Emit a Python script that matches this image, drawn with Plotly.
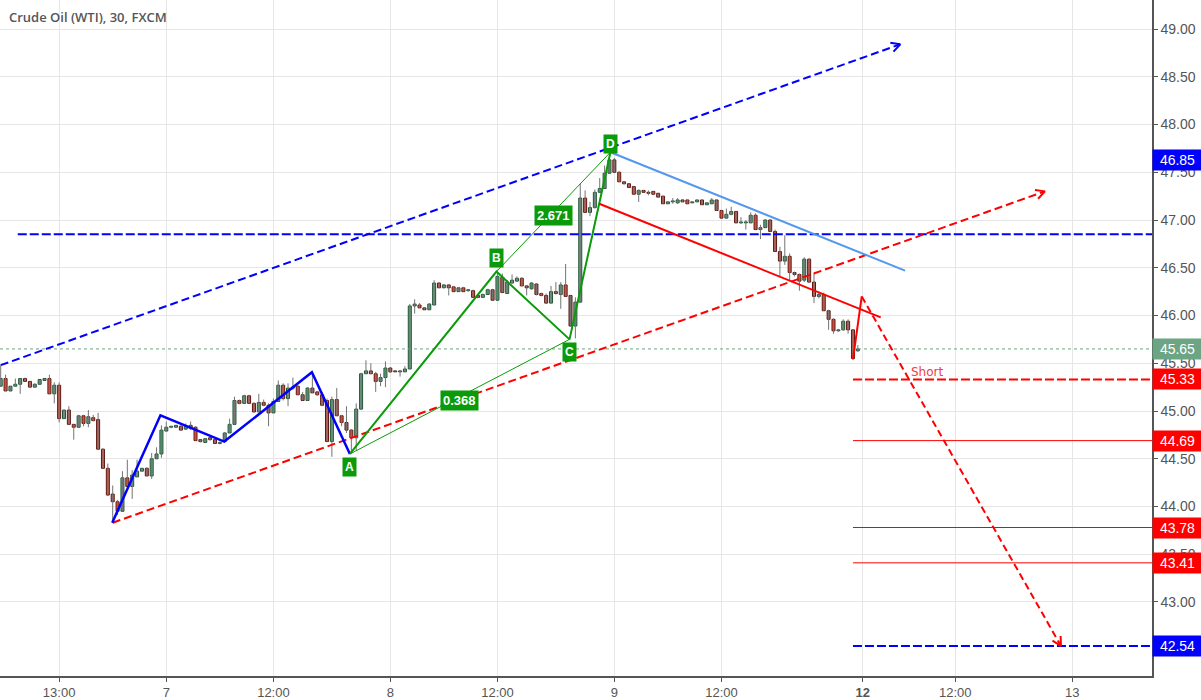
import math
import plotly.graph_objects as go

TITLE = "Crude Oil (WTI), 30, FXCM"

# ---- 30-minute candles ----
OPEN = [45.26, 45.34, 45.21, 45.26, 45.28, 45.34, 45.31, 45.25, 45.28, 45.32,
        45.34, 45.18, 45.27, 44.92, 45.01, 44.86, 44.83, 44.95, 44.87, 44.93,
        44.91, 44.60, 44.40, 44.13, 44.05, 43.95, 44.30, 44.21, 44.31, 44.37,
        44.40, 44.32, 44.50, 44.55, 44.79, 44.83, 44.83, 44.84, 44.81, 44.85,
        44.83, 44.70, 44.67, 44.72, 44.70, 44.66, 44.68, 44.77, 44.86, 45.11,
        45.08, 45.16, 45.08, 44.99, 45.09, 45.06, 44.98, 45.10, 45.27, 45.13,
        45.24, 45.26, 45.17, 45.11, 45.24, 45.20, 45.17, 45.11, 44.68, 45.12,
        44.95, 44.88, 44.80, 44.72, 45.02, 45.39, 45.42, 45.39, 45.31, 45.35,
        45.45, 45.42, 45.41, 45.41, 45.44, 46.10, 46.11, 46.08, 46.06, 46.11,
        46.34, 46.29, 46.32, 46.30, 46.25, 46.29, 46.26, 46.26, 46.21, 46.19,
        46.22, 46.27, 46.16, 46.40, 46.23, 46.34, 46.36, 46.39, 46.31, 46.28,
        46.33, 46.23, 46.21, 46.13, 46.25, 46.22, 46.32, 46.21, 45.89, 46.14,
        47.23, 47.08, 47.13, 47.29, 47.33, 47.49, 47.63, 47.50, 47.40, 47.38,
        47.35, 47.27, 47.31, 47.29, 47.30, 47.28, 47.25, 47.17, 47.19, 47.18,
        47.21, 47.21, 47.18, 47.19, 47.21, 47.16, 47.17, 47.21, 47.10, 47.02,
        47.06, 47.09, 46.97, 46.97, 46.97, 47.05, 46.90, 46.92, 47.00, 46.88,
        46.67, 46.57, 46.62, 46.45, 46.43, 46.37, 46.59, 46.35, 46.20, 46.22,
        46.05, 45.96, 45.84, 45.85, 45.94, 45.85, 45.63]
HIGH = [45.48, 45.38, 45.26, 45.34, 45.34, 45.35, 45.31, 45.29, 45.33, 45.34,
        45.38, 45.30, 45.30, 45.01, 45.05, 44.86, 44.96, 44.96, 45.01, 44.96,
        44.98, 44.61, 44.45, 44.22, 44.07, 44.37, 44.49, 44.38, 44.49, 44.40,
        44.41, 44.56, 44.62, 44.85, 44.89, 44.84, 44.85, 44.87, 44.87, 44.89,
        44.84, 44.70, 44.71, 44.72, 44.70, 44.68, 44.78, 44.92, 45.15, 45.12,
        45.17, 45.17, 45.09, 45.18, 45.12, 45.08, 45.13, 45.32, 45.29, 45.29,
        45.35, 45.27, 45.20, 45.25, 45.39, 45.21, 45.20, 45.13, 45.15, 45.24,
        44.96, 45.05, 44.81, 45.08, 45.40, 45.53, 45.50, 45.41, 45.39, 45.52,
        45.46, 45.43, 45.43, 45.47, 46.12, 46.17, 46.13, 46.08, 46.13, 46.37,
        46.35, 46.33, 46.33, 46.31, 46.29, 46.30, 46.27, 46.27, 46.21, 46.23,
        46.28, 46.28, 46.45, 46.44, 46.37, 46.43, 46.41, 46.40, 46.31, 46.35,
        46.34, 46.24, 46.23, 46.31, 46.35, 46.35, 46.54, 46.21, 46.19, 47.38,
        47.31, 47.19, 47.32, 47.44, 47.57, 47.69, 47.65, 47.51, 47.40, 47.38,
        47.35, 47.32, 47.31, 47.31, 47.30, 47.28, 47.25, 47.19, 47.23, 47.23,
        47.21, 47.21, 47.19, 47.21, 47.21, 47.18, 47.23, 47.21, 47.10, 47.12,
        47.14, 47.09, 47.03, 47.00, 47.08, 47.07, 46.95, 47.01, 47.01, 46.90,
        46.72, 46.84, 46.65, 46.46, 46.44, 46.61, 46.60, 46.44, 46.25, 46.24,
        46.06, 45.97, 45.86, 45.96, 45.96, 45.85, 45.69]
LOW = [45.26, 45.21, 45.21, 45.26, 45.18, 45.31, 45.24, 45.25, 45.28, 45.32,
       45.18, 45.08, 44.88, 44.92, 44.86, 44.70, 44.83, 44.84, 44.83, 44.89,
       44.60, 44.40, 44.11, 43.83, 43.91, 43.95, 44.21, 44.08, 44.31, 44.37,
       44.32, 44.29, 44.50, 44.51, 44.79, 44.82, 44.83, 44.80, 44.80, 44.80,
       44.69, 44.67, 44.67, 44.69, 44.66, 44.65, 44.68, 44.77, 44.86, 45.07,
       45.08, 45.08, 44.99, 44.99, 45.05, 44.84, 44.98, 45.10, 45.11, 45.05,
       45.22, 45.17, 45.11, 45.11, 45.19, 45.16, 45.05, 44.68, 44.52, 44.95,
       44.84, 44.77, 44.57, 44.59, 45.01, 45.39, 45.39, 45.20, 45.26, 45.25,
       45.40, 45.41, 45.36, 45.41, 45.44, 46.02, 46.08, 46.06, 46.06, 46.11,
       46.29, 46.29, 46.21, 46.25, 46.25, 46.25, 46.25, 46.19, 46.18, 46.19,
       46.22, 46.16, 46.16, 46.24, 46.23, 46.34, 46.35, 46.31, 46.21, 46.27,
       46.21, 46.20, 46.12, 46.13, 46.22, 46.07, 46.20, 45.88, 45.76, 46.14,
       47.08, 47.04, 47.12, 47.29, 47.33, 47.49, 47.50, 47.40, 47.37, 47.34,
       47.27, 47.19, 47.29, 47.26, 47.27, 47.24, 47.17, 47.17, 47.17, 47.17,
       47.19, 47.17, 47.18, 47.19, 47.16, 47.16, 47.17, 47.10, 47.02, 47.02,
       47.05, 46.97, 46.96, 46.90, 46.97, 46.90, 46.80, 46.92, 46.88, 46.67,
       46.41, 46.53, 46.37, 46.41, 46.26, 46.35, 46.34, 46.13, 46.18, 46.05,
       45.85, 45.81, 45.83, 45.84, 45.81, 45.54, 45.62]
CLOSE = [45.34, 45.21, 45.26, 45.28, 45.34, 45.31, 45.25, 45.28, 45.33, 45.34,
         45.18, 45.27, 44.92, 45.01, 44.86, 44.83, 44.95, 44.87, 44.94, 44.90,
         44.60, 44.40, 44.12, 44.05, 43.95, 44.30, 44.21, 44.33, 44.37, 44.40,
         44.32, 44.50, 44.55, 44.80, 44.83, 44.84, 44.85, 44.80, 44.84, 44.82,
         44.69, 44.68, 44.71, 44.70, 44.66, 44.67, 44.77, 44.86, 45.11, 45.08,
         45.16, 45.08, 44.99, 45.09, 45.06, 44.98, 45.10, 45.27, 45.13, 45.24,
         45.25, 45.17, 45.11, 45.24, 45.19, 45.17, 45.06, 44.68, 45.12, 44.95,
         44.88, 44.80, 44.72, 45.02, 45.39, 45.42, 45.39, 45.31, 45.35, 45.45,
         45.41, 45.41, 45.42, 45.44, 46.10, 46.12, 46.08, 46.06, 46.12, 46.34,
         46.29, 46.32, 46.29, 46.25, 46.29, 46.25, 46.27, 46.19, 46.19, 46.22,
         46.27, 46.16, 46.41, 46.24, 46.35, 46.37, 46.39, 46.31, 46.29, 46.34,
         46.22, 46.21, 46.13, 46.25, 46.23, 46.32, 46.20, 45.89, 46.14, 47.23,
         47.08, 47.13, 47.29, 47.33, 47.49, 47.63, 47.50, 47.40, 47.38, 47.34,
         47.27, 47.31, 47.29, 47.28, 47.27, 47.24, 47.17, 47.19, 47.20, 47.21,
         47.19, 47.17, 47.19, 47.21, 47.16, 47.18, 47.21, 47.10, 47.02, 47.06,
         47.09, 46.97, 46.98, 46.98, 47.05, 46.90, 46.92, 47.00, 46.88, 46.67,
         46.57, 46.62, 46.45, 46.43, 46.36, 46.59, 46.35, 46.20, 46.22, 46.05,
         45.96, 45.84, 45.85, 45.94, 45.85, 45.55, 45.65]
LAST_PRICE = 45.65

# time axis (bar index of each session label)
TIME_TICK_INDEX = [12, 34, 56, 80, 102, 126, 148, 177, 196, 220]
TIME_TICK_TEXT = ["13:00", "7", "12:00", "8", "12:00", "9", "12:00", "<b>12</b>", "12:00", "13"]
PRICE_TICKS = [43.0, 43.5, 44.0, 44.5, 45.0, 45.5, 46.0, 46.5, 47.0, 47.5, 48.0, 48.5, 49.0]

# ---- drawings (bar index, price) ----
BLUE_CHANNEL = [(0.0, 45.48), (184.7, 48.84)]
RED_CHANNEL = [(23.0, 43.83), (214.4, 47.30)]
BLUE_ZIGZAG = [(22.9, 43.83), (32.8, 44.955), (45.9, 44.68), (63.9, 45.405), (71.7, 44.55)]
PATTERN_NAMES = ["A", "B", "C", "D"]
PATTERN_PTS = [(71.7, 44.55), (101.8, 46.46), (116.8, 45.75), (125.2, 47.71)]
RATIO_AC = "0.368"
RATIO_BD = "2.671"
LIGHT_BLUE_LINE = [(125.2, 47.71), (185.7, 46.47)]
RED_TREND = [(122.9, 47.17), (180.7, 45.98)]
RED_PROJ_UP = [(175.0, 45.54), (176.8, 46.20)]
RED_PROJ_DOWN = [(176.8, 46.20), (217.7, 42.54)]
H_BLUE_TOP = (3.5, 46.85)
H_SHORT = (175.0, 45.33)
H_TARGETS = [44.69, 43.78, 43.41]
H_TARGET_START = 175.0
H_BLUE_BOTTOM = (175.0, 42.54)
SHORT_TEXT_X = 186.6

# axis labels on the price scale: (text, price position, colour)
AXIS_TAGS = [("46.85", 47.63, "#0000ff"), ("45.65", 45.65, "#6ba583"),
             ("45.33", 45.33, "#ff0000"), ("44.69", 44.69, "#ff0000"),
             ("43.78", 43.78, "#ff0000"), ("43.41", 43.41, "#ff0000"),
             ("42.54", 42.54, "#0000ff")]

X_RANGE = [-0.144, 236.4]
Y_RANGE = [42.225, 49.304]
PLOT_W, PLOT_H = 1152, 676

BLUE = "#0000ff"
RED = "#ff0000"
GREEN = "#0a9a0a"
SX = PLOT_W / (X_RANGE[1] - X_RANGE[0])
SY = PLOT_H / (Y_RANGE[1] - Y_RANGE[0])


def chevron(tail, tip, arm=10.0, ang=28.0):
    dx = (tip[0] - tail[0]) * SX
    dy = (tip[1] - tail[1]) * SY
    n = math.hypot(dx, dy)
    bx, by = -dx / n, -dy / n
    xs, ys = [], []
    for s in (1, -1):
        a = math.radians(ang) * s
        rx = bx * math.cos(a) - by * math.sin(a)
        ry = bx * math.sin(a) + by * math.cos(a)
        xs.append(tip[0] + arm * rx / SX)
        ys.append(tip[1] + arm * ry / SY)
    return [xs[0], tip[0], xs[1]], [ys[0], tip[1], ys[1]]


fig = go.Figure()

idx = list(range(len(OPEN)))

# last-price dotted line
fig.add_trace(go.Scatter(x=X_RANGE, y=[LAST_PRICE, LAST_PRICE], mode="lines",
                         line=dict(color="#6ba583", width=1, dash="dot"), hoverinfo="skip"))

# wicks
wx, wy = [], []
for i in idx:
    wx += [i, i, None]
    wy += [LOW[i], HIGH[i], None]
fig.add_trace(go.Scatter(x=wx, y=wy, mode="lines", line=dict(color="#737375", width=1),
                         hoverinfo="skip"))

# bodies
up = [i for i in idx if CLOSE[i] >= OPEN[i]]
dn = [i for i in idx if CLOSE[i] < OPEN[i]]
fig.add_trace(go.Bar(x=up, base=[OPEN[i] for i in up], y=[CLOSE[i] - OPEN[i] for i in up],
                     width=0.62, marker=dict(color="#6ba583", line=dict(color="#225437", width=1))))
fig.add_trace(go.Bar(x=dn, base=[CLOSE[i] for i in dn], y=[OPEN[i] - CLOSE[i] for i in dn],
                     width=0.62, marker=dict(color="#d75442", line=dict(color="#5b1a13", width=1))))


def line(pts, color, width=2, dash=None):
    fig.add_trace(go.Scatter(x=[p[0] for p in pts], y=[p[1] for p in pts], mode="lines",
                             line=dict(color=color, width=width, dash=dash), hoverinfo="skip"))


DASH = "8px,4px"
# horizontal levels
line([H_BLUE_TOP, (X_RANGE[1], H_BLUE_TOP[1])], BLUE, 2, "9px,3px")
line([H_SHORT, (X_RANGE[1], H_SHORT[1])], RED, 2, "9px,3px")
for lvl in H_TARGETS:
    line([(H_TARGET_START, lvl), (X_RANGE[1], lvl)], RED, 1)
line([H_BLUE_BOTTOM, (X_RANGE[1], H_BLUE_BOTTOM[1])], BLUE, 2, "9px,3px")

# channels
line(BLUE_CHANNEL, BLUE, 2, DASH)
cx, cy = chevron(BLUE_CHANNEL[0], BLUE_CHANNEL[1])
line(list(zip(cx, cy)), BLUE, 2)
line(RED_CHANNEL, RED, 2, DASH)
cx, cy = chevron(RED_CHANNEL[0], RED_CHANNEL[1])
line(list(zip(cx, cy)), RED, 2)

# zigzag
line(BLUE_ZIGZAG, BLUE, 2.5)

# harmonic pattern
A, B, C, D = PATTERN_PTS
line([A, C], GREEN, 1)
line([B, D], GREEN, 1)
line([A, B, C, D], GREEN, 2)

# trend lines
line(LIGHT_BLUE_LINE, "#5597ee", 2)
line(RED_TREND, RED, 2)

# projection
line(RED_PROJ_UP, RED, 2)
line(RED_PROJ_DOWN, RED, 2, "7px,4px")
cx, cy = chevron(RED_PROJ_DOWN[0], RED_PROJ_DOWN[1])
line(list(zip(cx, cy)), RED, 2)

annotations = []
shifts = {"A": -13, "B": 14, "C": -13, "D": 8}
for name, (px, py) in zip(PATTERN_NAMES, PATTERN_PTS):
    annotations.append(dict(x=px, y=py, text="<b>%s</b>" % name, showarrow=False,
                            yshift=shifts[name], bgcolor=GREEN, borderpad=2,
                            font=dict(color="white", size=12, family="Liberation Sans, Arial")))
for (p, q), txt in (((A, C), RATIO_AC), ((B, D), RATIO_BD)):
    annotations.append(dict(x=(p[0] + q[0]) / 2, y=(p[1] + q[1]) / 2, text="<b>%s</b>" % txt,
                            showarrow=False, yshift=-4, bgcolor=GREEN, borderpad=2,
                            font=dict(color="white", size=13, family="Liberation Sans, Arial")))
annotations.append(dict(x=SHORT_TEXT_X, y=H_SHORT[1], text="Short", showarrow=False,
                        xanchor="left", yanchor="bottom", yshift=-2,
                        font=dict(color="#f23c3c", size=12, family="DejaVu Sans, Arial")))
for txt, pos, col in AXIS_TAGS:
    annotations.append(dict(x=1, xref="paper", y=pos, yref="y", text=txt, showarrow=False,
                            xanchor="left", yanchor="middle", width=45, height=16, borderpad=2,
                            bgcolor=col, font=dict(color="white", size=14,
                                                   family="Liberation Sans, Arial")))
annotations.append(dict(x=0, y=1, xref="paper", yref="paper", xanchor="left", yanchor="top",
                        xshift=7, yshift=-6, text=TITLE, showarrow=False,
                        font=dict(color="#555555", size=13, family="Open Sans", weight=600)))

fig.update_layout(
    width=1201, height=700,
    margin=dict(l=0, r=49, t=0, b=24),
    paper_bgcolor="white", plot_bgcolor="white",
    showlegend=False, barmode="overlay",
    annotations=annotations,
    xaxis=dict(range=X_RANGE, tickmode="array", tickvals=TIME_TICK_INDEX, ticktext=TIME_TICK_TEXT,
               showgrid=True, gridcolor="#e6e6e6", gridwidth=1, zeroline=False,
               showline=True, linecolor="#555555", linewidth=1.5,
               ticks="outside", ticklen=4, tickcolor="#555555",
               tickfont=dict(color="#555555", size=13, family="Liberation Sans, Arial"),
               automargin=False, fixedrange=True),
    yaxis=dict(range=Y_RANGE, side="right", tickmode="array", tickvals=PRICE_TICKS,
               ticktext=["%.2f" % v for v in PRICE_TICKS],
               showgrid=True, gridcolor="#e6e6e6", gridwidth=1, zeroline=False,
               showline=True, linecolor="#555555", linewidth=1.5,
               ticks="outside", ticklen=4, tickcolor="#555555",
               tickfont=dict(color="#555555", size=14, family="Liberation Sans, Arial"),
               automargin=False, fixedrange=True),
)

fig.write_html("out.html", config={"displayModeBar": False},
               post_script="document.body.style.margin='0';document.body.style.padding='0';")
